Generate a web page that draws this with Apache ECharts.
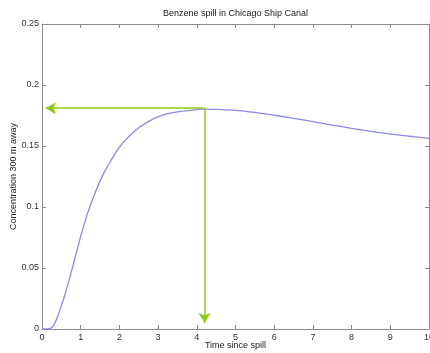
<!DOCTYPE html>
<html>
<head>
<meta charset="utf-8">
<script src="https://cdn.jsdelivr.net/npm/echarts@6/dist/echarts.min.js"></script>
<style>html,body{margin:0;padding:0;background:#fff}#c{width:430px;height:353px}</style>
</head>
<body>
<div id="c"></div>
<script>
// Data
var timeValues = [0, 0.1, 0.2, 0.3, 0.4, 0.5, 0.6, 0.7, 0.8, 0.9, 1.0, 1.2, 1.4, 1.6, 1.8, 2.0, 2.25, 2.5, 2.75, 3.0, 3.25, 3.5, 3.75, 4.0, 4.25, 4.5, 5.0, 5.5, 6.0, 6.5, 7.0, 7.5, 8.0, 8.5, 9.0, 9.5, 10];
var concValues = [0, 0, 0.0003, 0.003, 0.010, 0.019, 0.029, 0.040, 0.052, 0.064, 0.076, 0.097, 0.114, 0.128, 0.139, 0.149, 0.158, 0.165, 0.170, 0.174, 0.1765, 0.178, 0.179, 0.1798, 0.1803, 0.1800, 0.1792, 0.1775, 0.1752, 0.1727, 0.170, 0.1672, 0.1645, 0.162, 0.1597, 0.158, 0.1562];
var peakTime = 4.2;
var peakConc = 0.181;
var arrowEndTime = 0.1;
var arrowEndConc = 0.005;
var xTicks = [0, 1, 2, 3, 4, 5, 6, 7, 8, 9, 10];
var yTicks = [0, 0.05, 0.1, 0.15, 0.2, 0.25];
var titleText = 'Benzene spill in Chicago Ship Canal';
var xLabel = 'Time since spill';
var yLabel = 'Concentration 300 m away';

var curve = timeValues.map(function (t, i) { return [t, concValues[i]]; });
var font = 'Liberation Sans, Arial, sans-serif';
var axisGray = '#8a8a8a';
var green = '#8fcc0a';

var chart = echarts.init(document.getElementById('c'), null, {renderer: 'canvas'});
function baseAxis(extra) {
  return Object.assign({
    type: 'value',
    nameMoveOverlap: false,
    axisLine: {show: true, onZero: false, lineStyle: {color: axisGray, width: 1}},
    axisTick: {show: true, inside: true, length: 4, lineStyle: {color: axisGray}},
    splitLine: {show: false},
    axisLabel: {show: true, color: '#333', fontSize: 9, fontFamily: font},
    nameTextStyle: {color: '#222', fontSize: 9, fontFamily: font}
  }, extra);
}
chart.setOption({
  animation: false,
  grid: {left: 42, right: 1, top: 24, bottom: 24, containLabel: false, outerBoundsMode: 'none'},
  xAxis: [
    baseAxis({min: xTicks[0], max: xTicks[xTicks.length - 1], interval: 1, position: 'bottom',
      name: xLabel, nameLocation: 'middle', nameGap: 12,
      axisLabel: {color: '#333', fontSize: 9, fontFamily: font, margin: 4}}),
    baseAxis({min: xTicks[0], max: xTicks[xTicks.length - 1], interval: 1, position: 'top',
      name: titleText, nameLocation: 'middle', nameGap: 6,
      axisLabel: {show: false}})
  ],
  yAxis: [
    baseAxis({min: yTicks[0], max: yTicks[yTicks.length - 1], interval: 0.05, position: 'left',
      name: yLabel, nameLocation: 'middle', nameGap: 24, nameRotate: 90,
      axisLabel: {color: '#333', fontSize: 9, fontFamily: font, margin: 3,
        formatter: function (v) { return String(+v.toFixed(2)); }}}),
    baseAxis({min: yTicks[0], max: yTicks[yTicks.length - 1], interval: 0.05, position: 'right',
      axisLabel: {show: false}})
  ],
  series: [
    {
      type: 'line', xAxisIndex: 0, yAxisIndex: 0,
      data: curve, smooth: 0.35, showSymbol: false, symbol: 'none',
      lineStyle: {color: '#8a8aec', width: 1.3},
      z: 2
    },
    {
      type: 'line', xAxisIndex: 0, yAxisIndex: 0,
      data: [], silent: true,
      markLine: {
        silent: true, animation: false,
        symbol: ['none', 'arrow'], symbolSize: [9, 10],
        label: {show: false},
        lineStyle: {color: green, width: 1.5, type: 'solid'},
        emphasis: {disabled: true},
        data: [
          [{coord: [peakTime, peakConc]}, {coord: [arrowEndTime, peakConc]}],
          [{coord: [peakTime, peakConc]}, {coord: [peakTime, arrowEndConc]}]
        ]
      },
      z: 3
    }
  ]
});
</script>
</body>
</html>
